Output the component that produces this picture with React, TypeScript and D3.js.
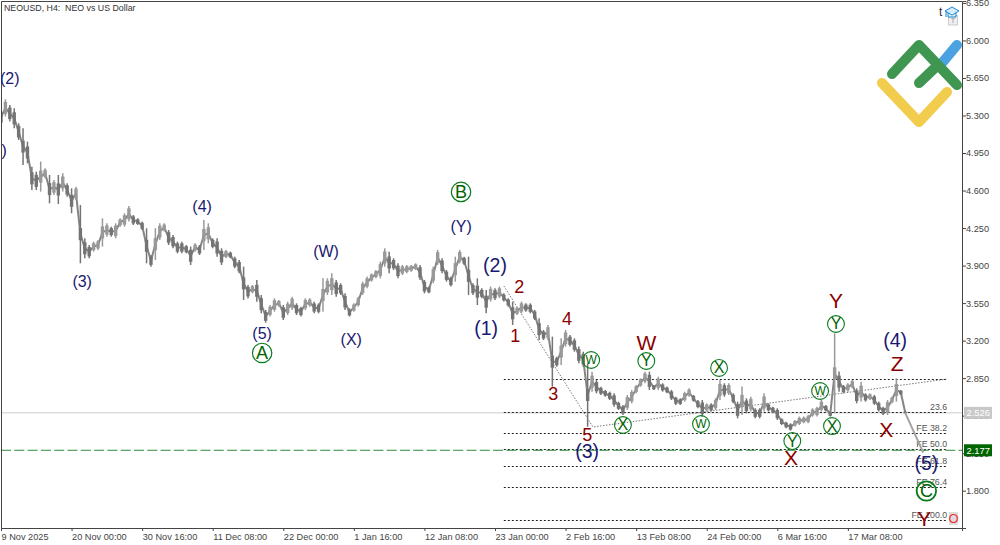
import React, { useEffect, useRef } from 'react';
import * as d3 from 'd3';

const highs = [
  5.352, 5.451, 5.398, 5.367, 5.227, 5.181, 5.056, 4.823, 4.776, 4.870, 4.807, 4.745, 4.699, 4.745, 4.761, 4.668, 4.621, 4.636, 4.465, 4.154,
  4.092, 4.123, 4.139, 4.341, 4.294, 4.263, 4.294, 4.341, 4.388, 4.456, 4.372, 4.341, 4.310, 4.248, 3.999, 4.248, 4.294, 4.294, 4.232, 4.185,
  4.123, 4.123, 4.092, 4.077, 4.108, 4.092, 4.325, 4.294, 4.154, 4.154, 4.061, 4.046, 4.030, 3.983, 3.952, 3.890, 3.719, 3.719, 3.766, 3.626,
  3.486, 3.532, 3.595, 3.579, 3.532, 3.563, 3.610, 3.548, 3.517, 3.595, 3.595, 3.563, 3.548, 3.781, 3.781, 3.828, 3.766, 3.735, 3.641, 3.501,
  3.548, 3.610, 3.750, 3.797, 3.828, 3.859, 3.937, 4.061, 4.030, 3.968, 3.921, 3.906, 3.906, 3.906, 3.921, 3.906, 3.766, 3.704, 3.890, 4.046,
  3.968, 3.859, 3.797, 3.983, 4.046, 3.983, 3.983, 3.735, 3.781, 3.688, 3.672, 3.704, 3.688, 3.704, 3.641, 3.595, 3.564, 3.517, 3.564, 3.548,
  3.548, 3.486, 3.408, 3.299, 3.346, 3.237, 3.050, 3.221, 3.299, 3.253, 3.221, 3.144, 3.097, 2.988, 2.910, 2.833, 2.770, 2.739, 2.724, 2.708,
  2.630, 2.599, 2.693, 2.739, 2.786, 2.848, 2.910, 2.910, 2.786, 2.864, 2.802, 2.771, 2.740, 2.677, 2.662, 2.724, 2.755, 2.693, 2.646, 2.646,
  2.615, 2.615, 2.662, 2.833, 2.802, 2.802, 2.709, 2.631, 2.771, 2.662, 2.677, 2.569, 2.569, 2.709, 2.615, 2.584, 2.569, 2.475, 2.444, 2.429,
  2.460, 2.491, 2.491, 2.506, 2.569, 2.584, 2.646, 2.600, 2.538, 3.268, 2.911, 2.786, 2.802, 2.833, 2.755, 2.817, 2.709, 2.709, 2.693, 2.631,
  2.584, 2.646, 2.677, 2.849, 2.740, 2.540,
];
const lows = [
  5.212, 5.290, 5.243, 5.181, 5.072, 4.839, 4.854, 4.605, 4.605, 4.590, 4.714, 4.481, 4.559, 4.475, 4.590, 4.543, 4.388, 4.512, 3.921, 3.968,
  3.968, 4.030, 4.046, 4.077, 4.170, 4.170, 4.154, 4.263, 4.263, 4.310, 4.279, 4.279, 4.232, 3.921, 3.890, 3.952, 4.139, 4.217, 4.092, 4.061,
  4.014, 4.014, 4.014, 3.906, 4.030, 3.999, 4.046, 4.108, 4.061, 3.983, 3.906, 3.968, 3.968, 3.874, 3.828, 3.579, 3.594, 3.641, 3.563, 3.455,
  3.367, 3.424, 3.470, 3.517, 3.392, 3.439, 3.486, 3.439, 3.424, 3.486, 3.517, 3.455, 3.455, 3.470, 3.626, 3.626, 3.610, 3.626, 3.486, 3.424,
  3.470, 3.517, 3.626, 3.688, 3.750, 3.781, 3.781, 3.890, 3.828, 3.859, 3.781, 3.812, 3.828, 3.843, 3.859, 3.766, 3.641, 3.641, 3.735, 3.906,
  3.828, 3.750, 3.704, 3.750, 3.921, 3.906, 3.626, 3.626, 3.532, 3.595, 3.455, 3.564, 3.579, 3.595, 3.564, 3.517, 3.346, 3.439, 3.455, 3.470,
  3.455, 3.392, 3.206, 3.206, 3.206, 2.770, 2.957, 2.973, 3.144, 3.144, 3.097, 2.988, 2.957, 2.397, 2.724, 2.708, 2.693, 2.677, 2.646, 2.584,
  2.553, 2.506, 2.553, 2.615, 2.708, 2.770, 2.802, 2.739, 2.739, 2.739, 2.724, 2.709, 2.646, 2.600, 2.600, 2.631, 2.677, 2.631, 2.569, 2.491,
  2.538, 2.538, 2.553, 2.646, 2.677, 2.693, 2.615, 2.475, 2.506, 2.522, 2.538, 2.475, 2.475, 2.538, 2.538, 2.522, 2.460, 2.413, 2.382, 2.360,
  2.398, 2.413, 2.429, 2.429, 2.491, 2.491, 2.538, 2.538, 2.491, 2.522, 2.724, 2.709, 2.724, 2.755, 2.615, 2.631, 2.631, 2.646, 2.600, 2.538,
  2.506, 2.506, 2.615, 2.631, 2.693, 2.520,
];

const yTicks = [6.35, 6.0, 5.65, 5.3, 4.95, 4.6, 4.25, 3.9, 3.55, 3.2, 2.85, 2.5, 2.15, 1.8];
const xTickLabels = ['9 Nov 2025', '20 Nov 00:00', '30 Nov 16:00', '11 Dec 08:00', '22 Dec 00:00', '1 Jan 16:00', '12 Jan 08:00', '23 Jan 00:00', '2 Feb 16:00', '13 Feb 08:00', '24 Feb 00:00', '6 Mar 16:00', '17 Mar 08:00'];
const xTickDates = [
  Date.UTC(2025, 10, 9, 8), Date.UTC(2025, 10, 20, 0), Date.UTC(2025, 10, 30, 16), Date.UTC(2025, 11, 11, 8), Date.UTC(2025, 11, 22, 0),
  Date.UTC(2026, 0, 1, 16), Date.UTC(2026, 0, 12, 8), Date.UTC(2026, 0, 23, 0), Date.UTC(2026, 1, 2, 16), Date.UTC(2026, 1, 13, 8),
  Date.UTC(2026, 1, 24, 0), Date.UTC(2026, 2, 6, 16), Date.UTC(2026, 2, 17, 8),
];

const lastPrice = 2.526;
const targetPrice = 2.177;

const feLevels = [2.842, 2.532, 2.34, 2.185, 2.029, 1.837, 1.527];
const feLabels = ['', '23.6', 'FE 38.2', 'FE 50.0', 'FE 61.8', 'FE 76.4', 'FE 100.0'];

// [sample index, price]
const trendPath: [number, number][] = [[114, 3.71], [134.2, 2.394], [214.5, 2.842]];
const forecastPath: [number, number][] = [[205, 2.526], [209.1, 2.155]];

// [label, sample index, price]
const blueSmall: [string, number, number][] = [
  ['(2)', 2.0, 5.641], ['(1)', -0.9, 4.969], ['(3)', 18.4, 3.747], ['(4)', 45.6, 4.447], ['(5)', 59.2, 3.262],
  ['(W)', 73.7, 4.027], ['(X)', 79.4, 3.206], ['(Y)', 104.3, 4.26],
];
const blueLarge: [string, number, number][] = [
  ['(2)', 112, 3.906], ['(1)', 110, 3.318], ['(3)', 132.9, 2.17], ['(4)', 202.7, 3.206], ['(5)', 209.8, 2.058],
];
const redDigits: [string, number, number][] = [
  ['1', 116.6, 3.243], ['2', 117.5, 3.7], ['3', 125.2, 2.702], ['4', 128.3, 3.402], ['5', 132.9, 2.319],
];
const redLetters: [string, number, number][] = [
  ['W', 146.3, 3.178], ['Y', 189.3, 3.57], ['Z', 203.2, 2.991], ['X', 200.7, 2.375], ['X', 179.1, 2.105], ['Y', 209.3, 1.545],
];
const circledLarge: [string, number, number][] = [['A', 59.2, 3.085], ['B', 104.3, 4.587], ['C', 209.8, 1.797]];
const circledSmall: [string, number, number][] = [
  ['W', 133.8, 3.019], ['Y', 146.3, 3.01], ['X', 141, 2.413], ['W', 158.7, 2.422], ['X', 162.8, 2.945],
  ['Y', 179.4, 2.263], ['W', 185.7, 2.73], ['X', 188.4, 2.403], ['Y', 189.3, 3.355],
];

const FONT = '"Liberation Sans", Arial, sans-serif';
const SAMPLE_MS = 16 * 3600 * 1000;
const START = xTickDates[0];

export default function App() {
  const svgRef = useRef<SVGSVGElement>(null);

  useEffect(() => {
    const left = 1, right = 962, top = 1, bottom = 528;
    const svg = d3.select(svgRef.current);
    svg.selectAll('*').remove();

    const x = d3.scaleTime().domain([new Date(START), new Date(Date.UTC(2026, 3, 3, 14))]).range([left, right]);
    const y = d3.scaleLinear().domain([6.368, 1.452]).range([top, bottom]);
    const xi = (i: number) => x(new Date(START + i * SAMPLE_MS));

    svg.append('clipPath').attr('id', 'plot').append('rect')
      .attr('x', left).attr('y', top).attr('width', right - left).attr('height', bottom - top);

    // last price + target level
    svg.append('line').attr('x1', left).attr('x2', right).attr('y1', y(lastPrice)).attr('y2', y(lastPrice))
      .attr('stroke', '#cccccc').attr('stroke-width', 1);

    // fibo levels
    svg.append('g').selectAll('line').data(feLevels).enter().append('line')
      .attr('x1', xi(114)).attr('x2', xi(214.5))
      .attr('y1', d => Math.round(y(d)) + 0.5).attr('y2', d => Math.round(y(d)) + 0.5)
      .attr('stroke', '#222').attr('stroke-width', 1).attr('stroke-dasharray', '2,2');

    svg.append('line').attr('x1', left).attr('x2', right).attr('y1', y(targetPrice)).attr('y2', y(targetPrice))
      .attr('stroke', '#2e8b3a').attr('stroke-width', 1).attr('stroke-dasharray', '10,3.3');

    svg.append('g').selectAll('text').data(feLabels).enter().append('text')
      .attr('x', xi(214.5)).attr('y', (_, i) => y(feLevels[i]) - 2)
      .attr('text-anchor', 'end').attr('font-family', FONT).attr('font-size', 8.8).attr('fill', '#555')
      .text(d => d);

    const line = d3.line<[number, number]>().x(d => xi(d[0])).y(d => y(d[1]));

    svg.append('path').attr('d', line(trendPath)).attr('fill', 'none')
      .attr('stroke', '#555').attr('stroke-width', 0.8).attr('stroke-dasharray', '1.5,1.5');

    // price bars: connector, wick, body
    const bars = svg.append('g').attr('clip-path', 'url(#plot)');
    const mids = highs.map((h, i) => (h + lows[i]) / 2);
    const barColor = (i: number) => (i > 0 && mids[i] > mids[i - 1] ? '#999999' : '#747474');
    bars.append('path')
      .attr('d', d3.line<number>().x((_, i) => xi(i)).y(d => y(d))(mids))
      .attr('fill', 'none').attr('stroke', '#858585').attr('stroke-width', 2);
    bars.selectAll('line').data(highs).enter().append('line')
      .attr('x1', (_, i) => xi(i)).attr('x2', (_, i) => xi(i))
      .attr('y1', d => y(d)).attr('y2', (_, i) => y(lows[i]))
      .attr('stroke', (_, i) => barColor(i))
      .attr('stroke-width', 1.5);
    const bodyTop = (i: number) => y(Math.min(highs[i], mids[i] + 0.08));
    const bodyBottom = (i: number) => y(Math.max(lows[i], mids[i] - 0.08));
    bars.selectAll('rect').data(highs).enter().append('rect')
      .attr('x', (_, i) => xi(i) - 1.7).attr('width', 3.4)
      .attr('y', (_, i) => bodyTop(i) + (bodyBottom(i) - bodyTop(i)) * 0.15)
      .attr('height', (_, i) => (bodyBottom(i) - bodyTop(i)) * 0.7)
      .attr('fill', (_, i) => barColor(i));

    svg.append('path').attr('d', line(forecastPath)).attr('fill', 'none')
      .attr('stroke', '#a3a3a3').attr('stroke-width', 2);

    // axes
    const yAxis = svg.append('g').attr('transform', `translate(${right},0)`)
      .call(d3.axisRight(y).tickValues(yTicks).tickFormat(d3.format('.3f') as any).tickSize(4).tickPadding(0));
    const xAxis = svg.append('g').attr('transform', `translate(0,${bottom})`)
      .call(d3.axisBottom(x).tickValues(xTickDates.map(d => new Date(d)) as any)
        .tickFormat((_, i) => xTickLabels[i]).tickSize(3).tickPadding(2));
    [yAxis, xAxis].forEach(a => {
      a.selectAll('path').attr('stroke', '#444');
      a.selectAll('line').attr('stroke', '#444');
      a.selectAll('text').attr('fill', '#444').attr('font-family', FONT).attr('font-size', 9.2);
    });
    xAxis.selectAll('text').attr('text-anchor', 'start');
    svg.append('path').attr('d', `M${left + 0.5},${bottom}V${top + 0.5}H${right}`).attr('fill', 'none').attr('stroke', '#444');

    // right side tags
    const tag = (price: number, bg: string) => {
      const g = svg.append('g').attr('transform', `translate(${right + 2},${y(price)})`);
      g.append('rect').attr('x', 0).attr('y', -6).attr('width', 28).attr('height', 12).attr('fill', bg);
      g.append('text').attr('x', 2.5).attr('y', 3.5).attr('fill', '#fff').attr('font-family', FONT).attr('font-size', 9.4)
        .text(d3.format('.3f')(price));
    };
    tag(lastPrice, '#c8c8c8');
    tag(targetPrice, '#006400');

    // wave labels
    const labels = svg.append('g').attr('clip-path', 'url(#plot)').attr('font-family', FONT)
      .attr('text-anchor', 'middle').attr('dominant-baseline', 'central');
    const putText = (rows: [string, number, number][], size: number, color: string) => {
      labels.append('g').selectAll('text').data(rows).enter().append('text')
        .attr('x', d => xi(d[1])).attr('y', d => y(d[2]))
        .attr('font-size', size).attr('fill', color).text(d => d[0]);
    };
    const putCircled = (rows: [string, number, number][], r: number, size: number, sw: number) => {
      const g = labels.append('g').selectAll('g').data(rows).enter().append('g')
        .attr('transform', d => `translate(${xi(d[1])},${y(d[2])})`);
      g.append('circle').attr('r', r).attr('fill', 'none').attr('stroke', '#0a7a1e').attr('stroke-width', d => (d[0] === 'C' ? 1.8 : sw));
      g.append('text').attr('font-size', d => (d[0] === 'W' ? size * 0.75 : size)).attr('fill', '#006400').text(d => d[0]);
    };
    putText(blueSmall, 16, '#191970');
    putText(blueLarge, 19.5, '#191970');
    putText(redDigits, 18, '#8b0000');
    putText(redLetters, 21, '#8b0000');
    putCircled(circledLarge, 9.7, 18, 1.2);
    putCircled(circledSmall, 8.4, 16, 1.1);

    // little red O in the corner
    svg.append('rect').attr('x', 949).attr('y', 512).attr('width', 9).attr('height', 13).attr('fill', '#dddddd');
    svg.append('text').attr('x', 953.5).attr('y', 523).attr('text-anchor', 'middle').attr('font-family', FONT)
      .attr('font-size', 13).attr('fill', '#f03030').text('O');

    // title
    svg.append('text').attr('x', 4).attr('y', 11).attr('font-family', FONT).attr('font-size', 8.8).attr('fill', '#333')
      .attr('xml:space', 'preserve').text('NEOUSD, H4:  NEO vs US Dollar');

    // logo
    const logo = svg.append('g').attr('fill', 'none').attr('stroke-linecap', 'round').attr('stroke-linejoin', 'round').attr('stroke-width', 10);
    logo.append('path').attr('d', 'M942,63L957,45').attr('stroke', '#4aa3e0');
    logo.append('path').attr('d', 'M882,83L919,122L947,92').attr('stroke', '#f2cc4d');
    logo.append('path').attr('d', 'M892,74L919,45L957,85M919,83L938,65').attr('stroke', '#3f9650');

    // cap icon
    svg.append('text').attr('x', 939).attr('y', 16).attr('font-family', FONT).attr('font-size', 12).attr('fill', '#333').text('t');
    svg.append('rect').attr('x', 948.5).attr('y', 15.5).attr('width', 9).attr('height', 9.5).attr('fill', '#f0f0f0').attr('stroke', '#cccccc');
    svg.append('text').attr('x', 953).attr('y', 23).attr('text-anchor', 'middle').attr('font-family', FONT).attr('font-size', 8).attr('fill', '#999').text('T');
    svg.append('path').attr('d', 'M945,11L952,7L959,11L952,15ZM948,13V17H956V13M946,11V17').attr('fill', '#d8ecf8').attr('stroke', '#1e88d0').attr('stroke-width', 1);
  }, []);

  return (
    <div style={{ position: 'fixed', left: 0, top: 0, width: 1000, height: 545, background: '#fff' }}>
      <svg ref={svgRef} width={1000} height={545} style={{ display: 'block' }} />
    </div>
  );
}
